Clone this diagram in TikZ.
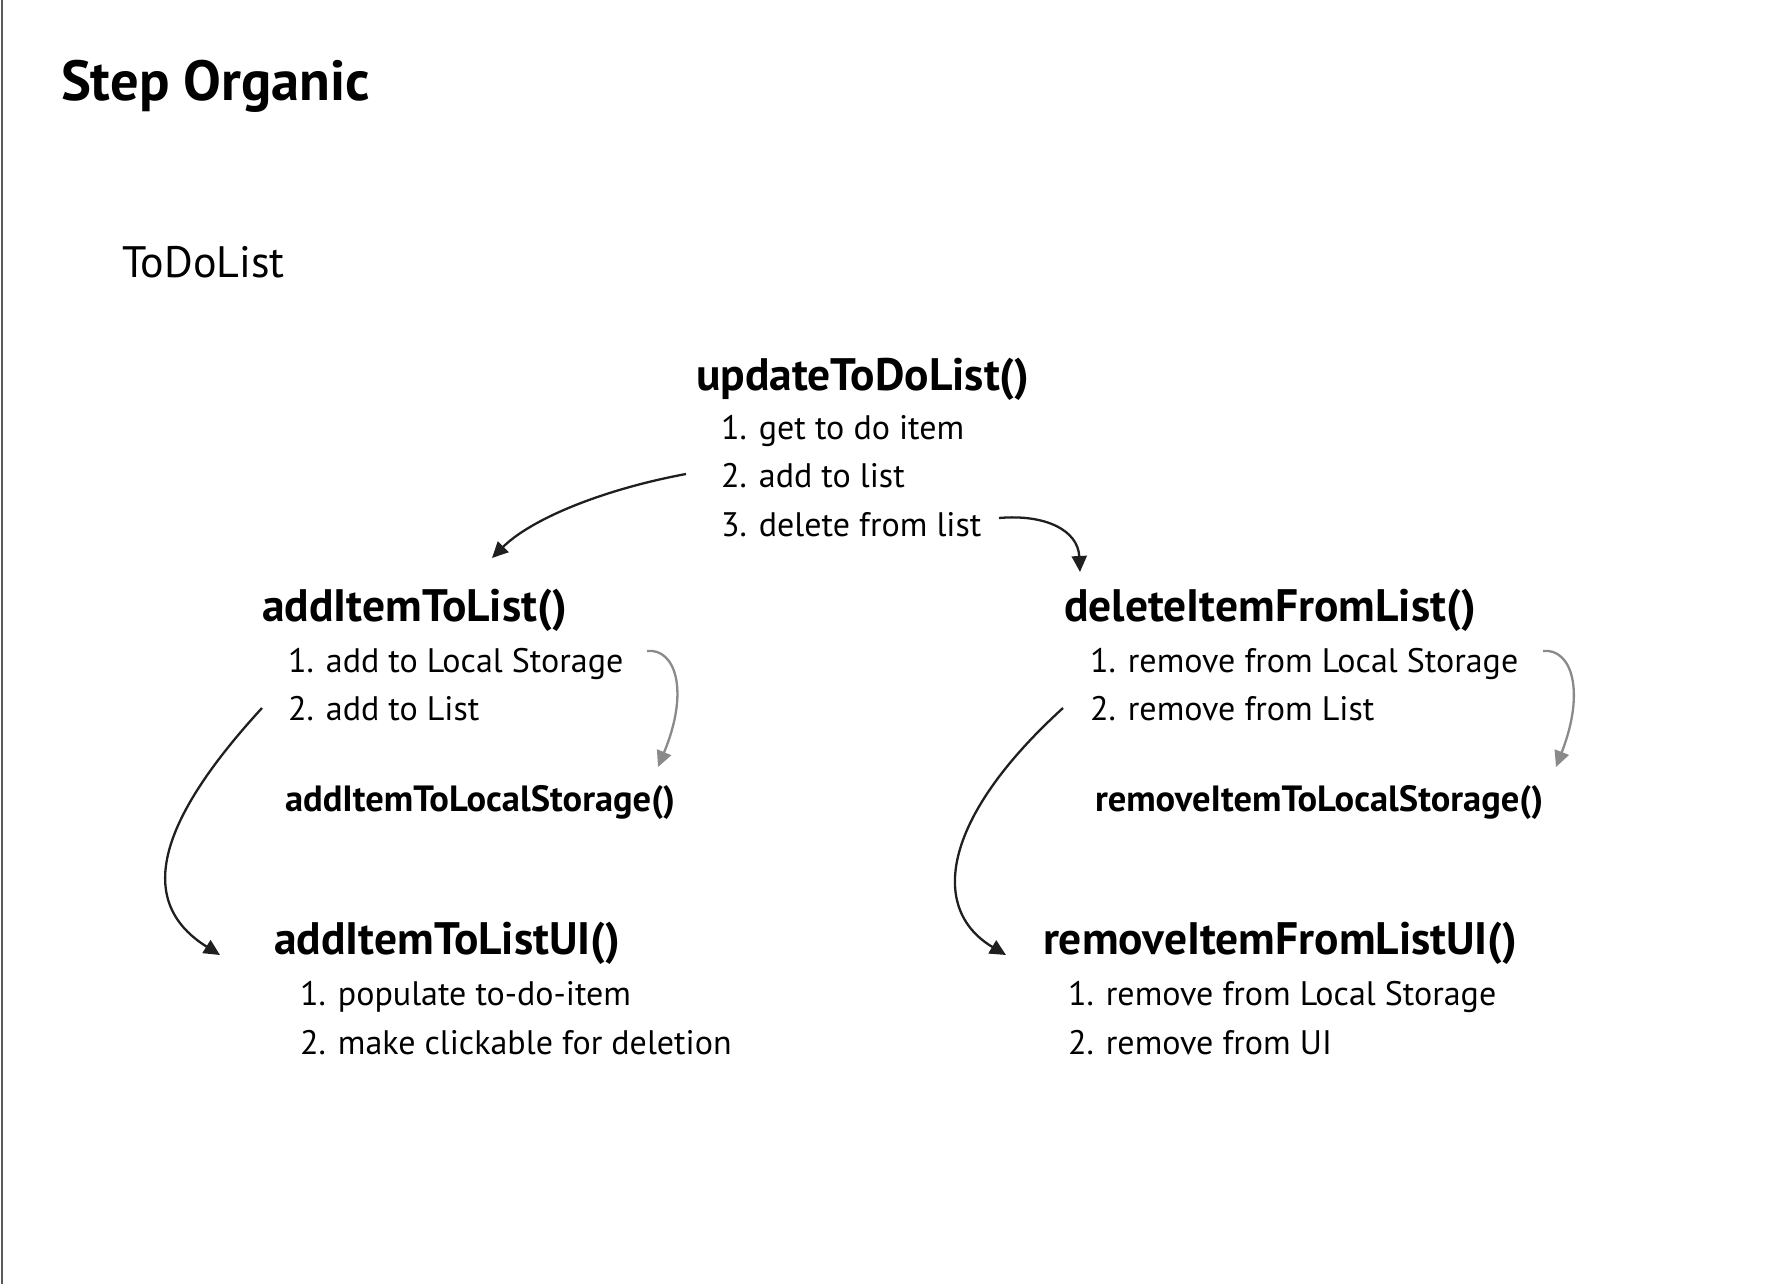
\documentclass[tikz,border=0pt]{standalone}
\usepackage{fontspec}
\setmainfont{PT Sans}
\usetikzlibrary{arrows.meta}
\definecolor{graylink}{HTML}{8A8A8A}
\tikzset{
  txt/.style={anchor=base west,inner sep=0pt,outer sep=0pt},
  heading/.style={txt,font=\fontsize{56.5}{64}\selectfont\bfseries},
  sub/.style={txt,font=\fontsize{44}{52}\selectfont},
  func/.style={txt,font=\fontsize{45.5}{54}\selectfont\bfseries},
  minor/.style={txt,font=\fontsize{36.5}{44}\selectfont\bfseries},
  body/.style={txt,font=\fontsize{34}{40}\selectfont},
  mainlink/.style={line width=2.3pt,black!88,-{Triangle[length=16pt,width=15pt]}},
  sidelink/.style={line width=2.3pt,graylink,-{Triangle[length=16pt,width=15pt]}}
}
\begin{document}
\begin{tikzpicture}[x=1pt,y=-1pt]
\useasboundingbox (0,0) rectangle (1786,1284);
\fill[white] (0,0) rectangle (1786,1284);
\draw[line width=2pt,gray!70!black] (2,0) -- (2,1284);

\node[heading] (title) at (61,101) {Step Organic};
\node[sub] (todo) at (122,277) {ToDoList};

\node[func] (upd) at (696,390) {updateToDoList()};
\node[body] (u1) at (721,439) {1. get to do item};
\node[body] (u2) at (721,487) {2. add to list};
\node[body] (u3) at (721,536) {3. delete from list};

\node[func] (add) at (262,621) {addItemToList()};
\node[body] (a1) at (288,672) {1. add to Local Storage};
\node[body] (a2) at (288,720) {2. add to List};
\node[minor] (als) at (285,811) {addItemToLocalStorage()};

\node[func] (addui) at (274,954) {addItemToListUI()};
\node[body] (b1) at (300,1005) {1. populate to-do-item};
\node[body] (b2) at (300,1054) {2. make clickable for deletion};

\node[func] (del) at (1064,621) {deleteItemFromList()};
\node[body] (d1) at (1090,672) {1. remove from Local Storage};
\node[body] (d2) at (1090,720) {2. remove from List};
\node[minor] (rls) at (1095,811) {removeItemToLocalStorage()};

\node[func] (remui) at (1043,954) {removeItemFromListUI()};
\node[body] (r1) at (1068,1005) {1. remove from Local Storage};
\node[body] (r2) at (1068,1054) {2. remove from UI};

% connector end points
\coordinate (s1) at (686,474);  \coordinate (e1) at (492,558);
\coordinate (s2) at (999,518);  \coordinate (e2) at (1080,572);
\coordinate (s3) at (647,651);  \coordinate (e3) at (658,767);
\coordinate (s4) at (262,708);  \coordinate (e4) at (220,955);
\coordinate (s5) at (1543,651); \coordinate (e5) at (1556,767);
\coordinate (s6) at (1063,708); \coordinate (e6) at (1006,955);

\draw[mainlink] (s1) .. controls (600,490) and (530,520) .. (e1);
\draw[mainlink] (s2) .. controls (1045,514) and (1078,530) .. (e2);
\draw[sidelink] (s3) .. controls (675,648) and (690,690) .. (e3);
\draw[mainlink] (s4) .. controls (150,830) and (140,905) .. (e4);
\draw[sidelink] (s5) .. controls (1571,648) and (1586,690) .. (e5);
\draw[mainlink] (s6) .. controls (940,820) and (930,910) .. (e6);
\end{tikzpicture}
\end{document}
